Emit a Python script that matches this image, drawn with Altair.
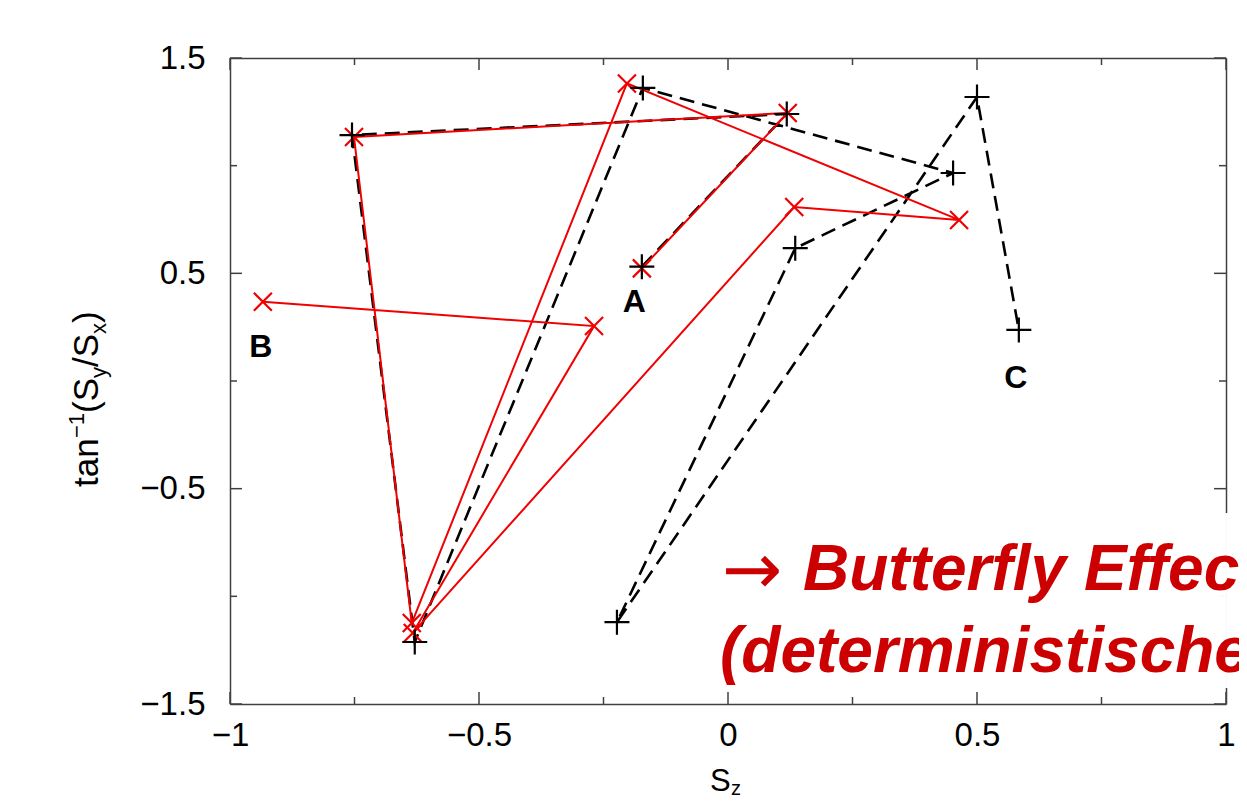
import altair as alt
import pandas as pd

# ---------------- data ----------------
# trajectory 1: black dashed, "+" markers (ends at C)
black_sz = [-0.173, 0.118, -0.755, -0.629, -0.171, 0.452, 0.135, -0.223, 0.500, 0.584]
black_phi = [0.531, 1.240, 1.142, -1.212, 1.361, 0.966, 0.617, -1.120, 1.319, 0.237]
# trajectory 2: red solid, "x" markers (ends at B)
red_sz = [-0.173, 0.120, -0.751, -0.635, -0.203, 0.464, 0.133, -0.633, -0.269, -0.934]
red_phi = [0.523, 1.245, 1.133, -1.124, 1.382, 0.748, 0.808, -1.170, 0.255, 0.368]

point_labels = ["A", "B", "C"]
label_sz = [-0.188, -0.938, 0.578]
label_phi = [0.369, 0.158, 0.014]

x_major = [-1, -0.5, 0, 0.5, 1]
x_minor = [-0.75, -0.25, 0.25, 0.75]
y_major = [-1.5, -0.5, 0.5, 1.5]
y_minor = [-1.0, 0.0, 1.0]

# ---------------- styling ----------------
W, H = 996, 646
FONT = "Liberation Sans"
AX = "#404040"
RED = "#f00000"
TXT_RED = "#cc0000"
PLUS = "M-1,0L1,0M0,-1L0,1"
CROSS = "M-1,-1L1,1M-1,1L1,-1"

xs = alt.Scale(domain=[-1, 1], nice=False, zero=False)
ys = alt.Scale(domain=[-1.5, 1.5], nice=False, zero=False)

black_df = pd.DataFrame({"step": list(range(1, len(black_sz) + 1)), "sz": black_sz, "phi": black_phi})
red_df = pd.DataFrame({"step": list(range(1, len(red_sz) + 1)), "sz": red_sz, "phi": red_phi})
lab_df = pd.DataFrame({"t": point_labels, "sz": label_sz, "phi": label_phi})
one = pd.DataFrame({"k": [0]})


def xq(field="sz", axis=None):
    return alt.X(f"{field}:Q", scale=xs, axis=axis)


def yq(field="phi", axis=None):
    return alt.Y(f"{field}:Q", scale=ys, axis=axis)


common_axis = dict(
    labelFont=FONT, labelFontSize=33, labelColor="black", ticks=False, tickSize=0,
    domain=True, domainColor=AX, domainWidth=1.5, grid=False, title=None,
    labelFlush=False, labelOverlap=False, format=".2~f",
)

# ---- frame axes + inward ticks ----
bottom_major = alt.Chart(pd.DataFrame({"v": x_major})).mark_rule(color=AX, strokeWidth=1.5).encode(
    x=xq("v", alt.Axis(orient="bottom", values=x_major, labelPadding=15, **common_axis)),
    y=alt.value(H), y2=alt.value(H - 12))
bottom_minor = alt.Chart(pd.DataFrame({"v": x_minor})).mark_rule(color=AX, strokeWidth=1.5).encode(
    x=xq("v"), y=alt.value(H), y2=alt.value(H - 7))
top_major = alt.Chart(pd.DataFrame({"v": x_major})).mark_rule(color=AX, strokeWidth=1.5).encode(
    x=xq("v", alt.Axis(orient="top", values=x_major, labels=False, ticks=False, tickSize=0,
                       domain=True, domainColor=AX, domainWidth=1.5, grid=False, title=None)),
    y=alt.value(0), y2=alt.value(12))
top_minor = alt.Chart(pd.DataFrame({"v": x_minor})).mark_rule(color=AX, strokeWidth=1.5).encode(
    x=xq("v"), y=alt.value(0), y2=alt.value(7))

left_major = alt.Chart(pd.DataFrame({"v": y_major})).mark_rule(color=AX, strokeWidth=1.5).encode(
    y=yq("v", alt.Axis(orient="left", values=y_major, labelPadding=25, **common_axis)),
    x=alt.value(0), x2=alt.value(12))
left_minor = alt.Chart(pd.DataFrame({"v": y_minor})).mark_rule(color=AX, strokeWidth=1.5).encode(
    y=yq("v"), x=alt.value(0), x2=alt.value(7))
right_major = alt.Chart(pd.DataFrame({"v": y_major})).mark_rule(color=AX, strokeWidth=1.5).encode(
    y=yq("v", alt.Axis(orient="right", values=y_major, labels=False, ticks=False, tickSize=0,
                       domain=True, domainColor=AX, domainWidth=1.5, grid=False, title=None)),
    x=alt.value(W), x2=alt.value(W - 12))
right_minor = alt.Chart(pd.DataFrame({"v": y_minor})).mark_rule(color=AX, strokeWidth=1.5).encode(
    y=yq("v"), x=alt.value(W), x2=alt.value(W - 7))

# ---- trajectories ----
black_line = alt.Chart(black_df).mark_line(color="black", strokeWidth=2.6, strokeDash=[15, 8]).encode(
    x=xq(), y=yq(), order="step:Q")
red_line = alt.Chart(red_df).mark_line(color=RED, strokeWidth=2).encode(
    x=xq(), y=yq(), order="step:Q")
red_pts = alt.Chart(red_df).mark_point(shape=CROSS, size=324, filled=False, color=RED,
                                       strokeWidth=2.2, opacity=1).encode(x=xq(), y=yq())
black_pts = alt.Chart(black_df).mark_point(shape=PLUS, size=625, filled=False, color="black",
                                           strokeWidth=2.2, opacity=1).encode(x=xq(), y=yq())

labels = alt.Chart(lab_df).mark_text(font=FONT, fontSize=32, fontWeight="bold", color="black",
                                     align="center", baseline="middle").encode(
    x=xq(), y=yq(), text="t:N")


# ---- axis titles (with sub/superscripts) ----
def txt(s, x, y, size, angle=0, align="left", baseline="alphabetic", color="black",
        weight="normal", style="normal", font=FONT):
    return alt.Chart(one).mark_text(text=s, font=font, fontSize=size, angle=angle, align=align,
                                    baseline=baseline, color=color, fontWeight=weight,
                                    fontStyle=style).encode(x=alt.value(x), y=alt.value(y))


xt_S = txt("S", 480, 733, 31)
xt_z = txt("z", 501, 737, 20)

# rotated title  tan^-1(S_y/S_x), reading upwards
ytitle = [
    txt("tan", -132, 429, 35, angle=270),
    txt("\u22121", -146, 380, 22, angle=270),
    txt("(S", -132, 355, 35, angle=270),
    txt("y", -124, 320, 22, angle=270),
    txt("/S", -132, 309, 35, angle=270),
    txt("x", -124, 276, 22, angle=270),
    txt(")", -132, 265, 35, angle=270),
]

# ---- overlaid slide text box ----
box = alt.Chart(one).mark_rect(color="white", opacity=0.97).encode(
    x=alt.value(462), x2=alt.value(1100), y=alt.value(455), y2=alt.value(630))
arrow = txt("\u2192", 492, 536, 72, color=TXT_RED, font="DejaVu Sans")
line1 = txt("Butterfly Effect", 573, 532, 64, color=TXT_RED, weight="bold", style="italic")
line2 = txt("(deterministisches Chaos)", 490, 614, 64, color=TXT_RED, weight="bold", style="italic")

chart = alt.layer(
    bottom_major, bottom_minor, top_major, top_minor,
    left_major, left_minor, right_major, right_minor,
    black_line, red_line, red_pts, black_pts, labels,
    xt_S, xt_z, *ytitle,
    box, arrow, line1, line2,
).resolve_axis(x="independent", y="independent").properties(
    width=W, height=H,
    autosize=alt.AutoSizeParams(type="none"),
    padding={"left": 222, "top": 50, "right": 13, "bottom": 95},
    background="white",
).configure_view(stroke=None)

chart.save("out.html", embed_options={"renderer": "svg", "actions": False})
